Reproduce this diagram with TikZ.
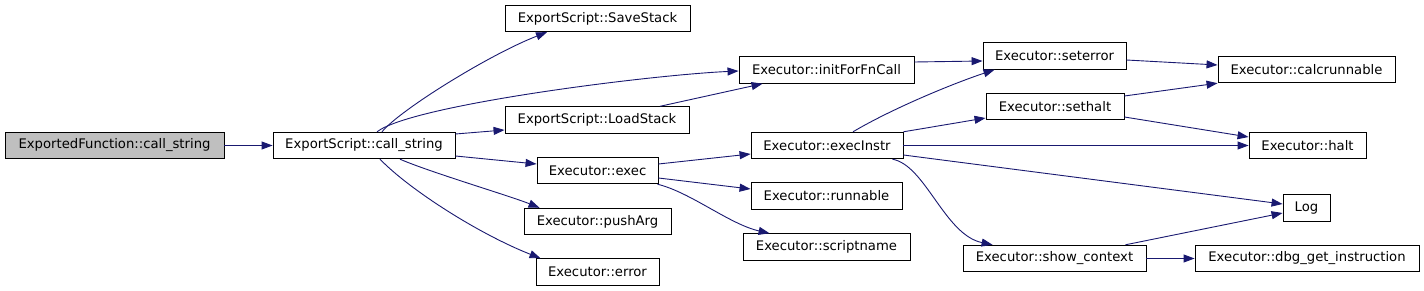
\documentclass[tikz,border=0pt]{standalone}
\usepackage{fontspec}
\setmainfont{DejaVu Sans}
\usetikzlibrary{arrows.meta}
\definecolor{edgecol}{HTML}{191970}
\definecolor{grayfill}{HTML}{BFBFBF}
\tikzset{
  box/.style={draw=black, line width=0.9pt, fill=white, inner sep=0pt, minimum height=26.5pt, font=\fontsize{13.2}{15}\selectfont},
  edge/.style={draw=edgecol, line width=0.9pt, -{Triangle[length=11pt,width=8pt]}}
}
\begin{document}
\begin{tikzpicture}[x=1pt,y=-1pt]
\useasboundingbox (0,0) rectangle (1424,291);
\node[box, fill=grayfill, minimum width=219pt] (ef) at (114.5,145.5) {ExportedFunction::call\_string};
\node[box, minimum width=182pt] (cs) at (364,145.5) {ExportScript::call\_string};
\node[box, minimum width=185pt] (save) at (597.5,18.5) {ExportScript::SaveStack};
\node[box, minimum width=175pt] (init) at (826.5,70) {Executor::initForFnCall};
\node[box, minimum width=184pt] (load) at (597,120) {ExportScript::LoadStack};
\node[box, minimum width=121pt] (exec) at (597.5,170.5) {Executor::exec};
\node[box, minimum width=147pt] (push) at (597.5,221.5) {Executor::pushArg};
\node[box, minimum width=123pt] (err) at (597.5,272) {Executor::error};
\node[box, minimum width=152pt] (ei) at (827,145.5) {Executor::execInstr};
\node[box, minimum width=151pt] (run) at (826.5,196) {Executor::runnable};
\node[box, minimum width=167pt] (sn) at (826.5,247) {Executor::scriptname};
\node[box, minimum width=143pt] (se) at (1054.5,56) {Executor::seterror};
\node[box, minimum width=138pt] (sh) at (1055,106.5) {Executor::sethalt};
\node[box, minimum width=183pt] (sc) at (1054.5,258.5) {Executor::show\_context};
\node[box, minimum width=177pt] (calc) at (1306.5,69.5) {Executor::calcrunnable};
\node[box, minimum width=117pt] (halt) at (1307.5,145.5) {Executor::halt};
\node[box, minimum width=47pt] (log) at (1306.5,208) {Log};
\node[box, minimum width=224pt] (dbg) at (1307,258.5) {Executor::dbg\_get\_instruction};

\draw[edge] (ef.east) -- (cs.west);
\draw[edge] ([xshift=18pt]cs.north) .. controls +(18,-22) and +(-57,22) .. ([xshift=-50.5pt]save.south);
\draw[edge] ([xshift=13pt]cs.north) .. controls +(35,-27) and +(-89,4) .. ([yshift=-1pt]init.west);
\draw[edge] ([yshift=11.5pt]cs.east) -- ([yshift=-10pt]load.west);
\draw[edge] ([yshift=-10.5pt]cs.east) -- ([yshift=6.5pt]exec.west);
\draw[edge] ([xshift=36pt]cs.south) .. controls +(30,13) and +(-30,-12) .. ([xshift=16pt]push.north west);
\draw[edge] ([xshift=16pt]cs.south) .. controls +(30,31) and +(-61,-24) .. ([xshift=5pt]err.north west);
\draw[edge] ([xshift=63pt]load.north) -- ([xshift=24pt]init.south west);
\draw[edge] ([yshift=6.5pt]exec.east) -- ([yshift=-8.5pt]ei.west);
\draw[edge] ([yshift=-7.5pt]exec.east) -- ([yshift=7pt]run.west);
\draw[edge] ([xshift=-1pt]exec.south east) .. controls +(33,8) and +(-40,-9) .. ([xshift=27pt]sn.north west);
\draw[edge] ([yshift=8pt]init.east) -- ([yshift=-5pt]se.west);
\draw[edge] ([xshift=26pt]ei.north) .. controls +(37,-22) and +(-45,15) .. ([xshift=12pt]se.south west);
\draw[edge] (ei.north east) -- ([yshift=-11.5pt]sh.west);
\draw[edge] (ei.east) -- (halt.west);
\draw[edge] ([yshift=-9.5pt]ei.east) -- ([yshift=4pt]log.west);
\draw[edge] ([xshift=-11pt]ei.south east) .. controls +(33,6) and +(-48,-10) .. ([xshift=30pt]sc.north west);
\draw[edge] ([yshift=-4pt]se.east) -- ([yshift=4.5pt]calc.west);
\draw[edge] ([yshift=10.5pt]sh.east) -- (calc.south west);
\draw[edge] ([yshift=-10.5pt]sh.east) -- ([yshift=8.5pt]halt.west);
\draw[edge] ([xshift=-21pt]sc.north east) -- ([yshift=-5pt]log.west);
\draw[edge] (sc.east) -- (dbg.west);
\end{tikzpicture}
\end{document}
